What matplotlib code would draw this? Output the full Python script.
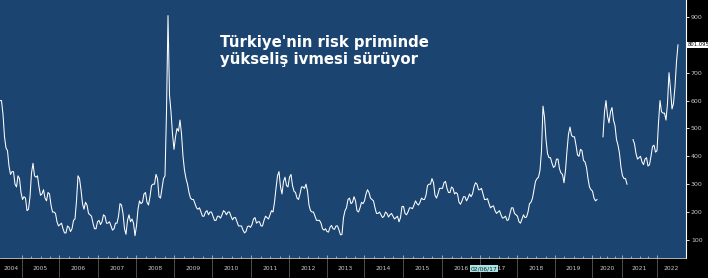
"""Turkey CDS (risk premium) chart, Bloomberg-style dark layout."""

import matplotlib

matplotlib.use("Agg")
import matplotlib.pyplot as plt
import matplotlib.transforms as mtransforms
import numpy as np

# Series sampled at a fixed step along the time axis (chart position units).
SAMPLE_STEP = 3
cds_values = [
    600, 550, 430, 365, 345, 300, 330, 270, 255, 205,
    255, 375, 325, 290, 265, 250, 270, 225, 200, 165,
    155, 140, 125, 145, 140, 175, 330, 280, 210, 225,
    190, 160, 140, 170, 165, 185, 160, 150, 140, 160,
    230, 195, 120, 190, 175, 115, 210, 230, 265, 235,
    255, 300, 335, 255, 285, 330, 905, 560, 425, 500,
    530, 400, 320, 270, 245, 230, 210, 200, 185, 205,
    200, 185, 170, 185, 190, 200, 200, 185, 180, 165,
    150, 135, 130, 150, 155, 180, 165, 150, 170, 180,
    190, 200, 285, 345, 265, 325, 290, 335, 275, 250,
    265, 290, 300, 225, 200, 185, 170, 160, 135, 130,
    145, 140, 150, 135, 120, 205, 245, 230, 255, 205,
    215, 230, 265, 270, 245, 215, 195, 190, 185, 195,
    190, 185, 180, 165, 220, 195, 200, 215, 225, 230,
    235, 245, 260, 300, 320, 260, 265, 285, 305, 285,
    270, 285, 270, 235, 240, 255, 250, 255, 290, 300,
    280, 265, 245, 230, 220, 205, 200, 190, 180, 170,
    195, 215, 190, 165, 175, 180, 200, 235, 280, 320,
    350, 580, 460, 395, 375, 365, 390, 340, 305, 420,
    505, 470, 440, 400, 420, 380, 320, 280, 250, 245,
    np.nan, 470, 600, 520, 575, 510, 440, 360, 320, 300,
    np.nan, 460, 410, 395, 380, 390, 365, 400, 440, 420,
    600, 555, 530, 700, 570, 650, 800,
]
# intra-step swings, read half a step after each sample above
cds_between = [
    600, 470, 420, 335, 345, 290, 320, 245, 250, 210,
    340, 330, 330, 260, 280, 240, 265, 200, 195, 150,
    160, 125, 150, 130, 170, 240, 320, 230, 235, 195,
    185, 140, 165, 155, 190, 160, 165, 135, 160, 185,
    225, 140, 170, 165, 160, 150, 240, 235, 270, 225,
    295, 300, 320, 250, 320, 560, 620, 480, 470, 490,
    480, 350, 300, 250, 245, 215, 215, 185, 200, 190,
    200, 170, 185, 178, 205, 190, 200, 172, 180, 150,
    150, 125, 148, 145, 175, 160, 165, 150, 185, 175,
    205, 235, 330, 290, 310, 295, 325, 295, 270, 245,
    290, 285, 275, 205, 200, 170, 170, 140, 140, 128,
    152, 138, 150, 118, 180, 215, 250, 235, 240, 200,
    235, 240, 280, 250, 240, 195, 200, 180, 200, 182,
    195, 175, 185, 180, 220, 190, 215, 212, 240, 225,
    250, 245, 295, 300, 305, 250, 285, 285, 310, 270,
    290, 265, 265, 228, 255, 240, 265, 265, 305, 280,
    285, 245, 248, 215, 222, 195, 205, 178, 185, 172,
    215, 195, 185, 160, 190, 182, 230, 250, 310, 325,
    420, 540, 410, 395, 360, 390, 355, 335, 350, 480,
    475, 470, 405, 425, 385, 360, 290, 275, 240, np.nan,
    np.nan, 560, 545, 560, 530, 460, 410, 330, 320, np.nan,
    np.nan, 445, 390, 400, 370, 395, 370, 435, 415, 520,
    560, 555, 590, 640, 590, 740,
]

# Year boundaries on the same position scale; Bloomberg squeezes the last years.
years = list(range(2004, 2023))
year_starts = [22, 59, 98, 136, 174, 212, 251, 289, 327, 364,
               403, 442, 480, 517, 555, 592, 622, 657]
x_end = 686

y_ticks = [100, 200, 300, 400, 500, 600, 700, 800, 900]
last_value = 801.095
cursor_label = "02/06/17"
cursor_pos = 484

title = "Türkiye'nin risk priminde\nyükseliş ivmesi sürüyor"

BG_BLUE = "#1b4471"
LABEL_GRAY = "#c9c9c9"

# merge the two lists into one line (samples and half-step swings alternate)
n = len(cds_values)
x = np.arange(2 * n - 1) * SAMPLE_STEP / 2
y = np.empty(2 * n - 1)
y[0::2] = cds_values
y[1::2] = cds_between

fig = plt.figure(figsize=(7.08, 2.78), dpi=100, facecolor="black")
ax = fig.add_axes([0.0, 20 / 278, 686 / 708, 258 / 278])
ax.set_facecolor(BG_BLUE)

ax.plot(x, y, color="white", linewidth=0.75)

ax.set_xlim(0, x_end)
ax.set_ylim(35, 961)

# right-hand value axis; the last-value tag hides the 800 label
ax.yaxis.tick_right()
ax.set_yticks(y_ticks)
ax.set_yticklabels(["" if abs(v - last_value) < 30 else str(v) for v in y_ticks])
ax.tick_params(axis="y", direction="out", length=2, width=0.6, color="white",
               labelsize=4.5, labelcolor=LABEL_GRAY, pad=1.5)

# bottom axis: small inward ticks (quarters), labels drawn between boundaries
edges = [0] + year_starts + [x_end]
quarter_ticks = []
for left, right in zip(year_starts[:-1], year_starts[1:]):
    quarter_ticks.extend(np.linspace(left, right, 5)[1:-1])
ax.set_xticks(year_starts)
ax.set_xticks(quarter_ticks, minor=True)
ax.set_xticklabels([])
ax.tick_params(axis="x", which="both", direction="in", width=0.5,
               color="#d0d0d0")
ax.tick_params(axis="x", which="major", length=2.2)
ax.tick_params(axis="x", which="minor", length=1.3)
for side in ("top", "left"):
    ax.spines[side].set_visible(False)
ax.spines["right"].set_color("white")
ax.spines["right"].set_linewidth(0.8)
ax.spines["bottom"].set_color("#d0d0d0")
ax.spines["bottom"].set_linewidth(0.6)

trans = mtransforms.blended_transform_factory(ax.transData, ax.transAxes)
for year, left, right in zip(years, edges[:-1], edges[1:]):
    ax.text((left + right) / 2, -0.042, str(year), transform=trans,
            ha="center", va="center", fontsize=4.3, color=LABEL_GRAY)
for pos in year_starts:
    ax.plot([pos, pos], [0, -0.075], transform=trans, color="#5a5a5a",
            linewidth=0.6, clip_on=False)

ax.text(cursor_pos, -0.042, cursor_label, transform=trans, ha="center",
        va="center", fontsize=4.3, color="#1a1a1a",
        bbox=dict(boxstyle="square,pad=0.15", facecolor="#a6e4e6",
                  edgecolor="none"))

ax.annotate(f"{last_value:.3f}", xy=(1.0, last_value),
            xycoords=("axes fraction", "data"),
            xytext=(1, 0), textcoords="offset points", ha="left", va="center",
            fontsize=3.8, color="black",
            bbox=dict(boxstyle="square,pad=0.1", facecolor="white",
                      edgecolor="none"))

fig.text(220 / 708, 1 - 35 / 278, title, ha="left", va="top",
         fontsize=10.7, fontweight="bold", color="white", linespacing=1.15)

fig.savefig("out.png", dpi=100, facecolor=fig.get_facecolor())
